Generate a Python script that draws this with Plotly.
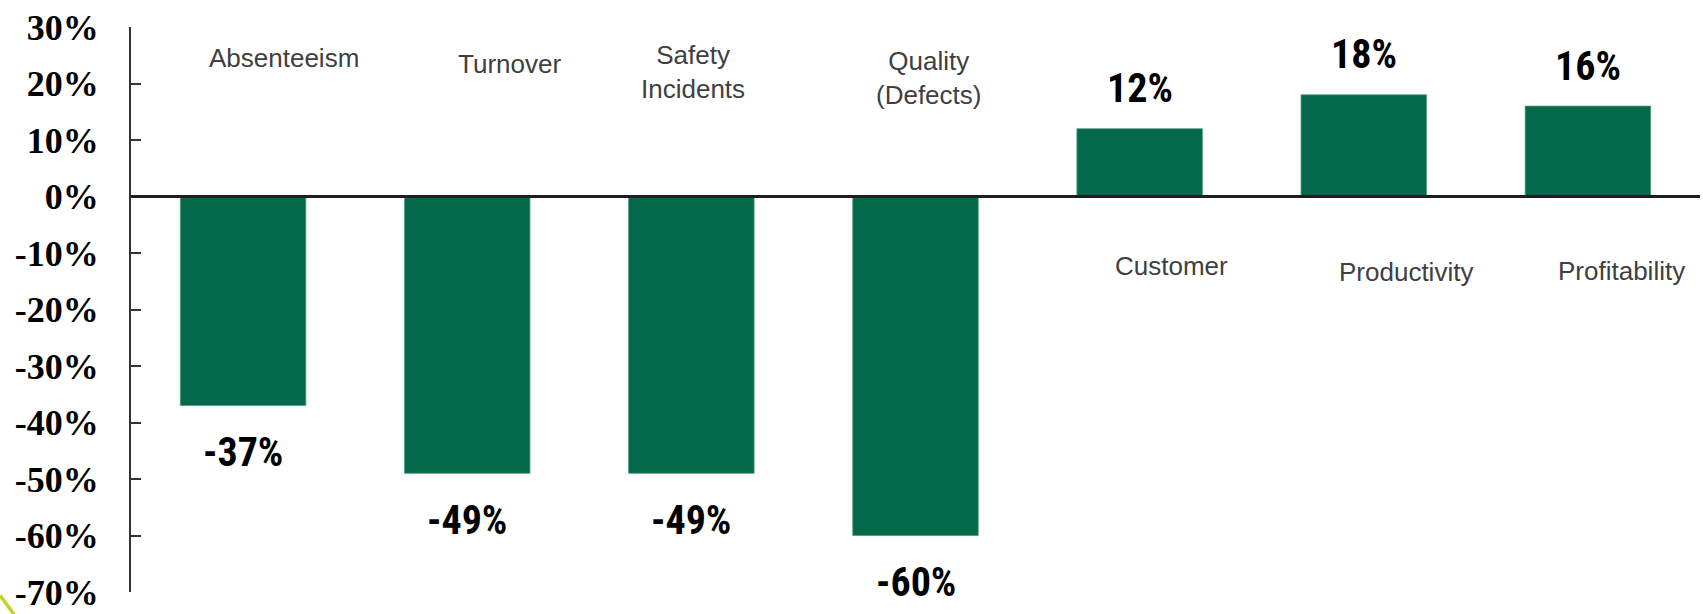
import plotly.graph_objects as go

# ---- data ----
categories = ["Absenteeism", "Turnover", "Safety Incidents", "Quality (Defects)",
              "Customer", "Productivity", "Profitability"]
values = [-37, -49, -49, -60, 12, 18, 16]
tick_values = [30, 20, 10, 0, -10, -20, -30, -40, -50, -60, -70]
tick_labels = [f"{v}%" for v in tick_values]

# ---- display settings (layout only) ----
wrapped = {"Safety Incidents": "Safety<br>Incidents",
           "Quality (Defects)": "Quality<br>(Defects)"}
label_y = [24.6, 23.5, 22.0, 20.9, -12.3, -13.4, -13.1]
label_dx = [41, 42, 2, 13, 32, 42, 34]

BAR = "#03694A"

fig = go.Figure()
fig.add_trace(go.Bar(
    x=categories, y=values,
    marker=dict(color=BAR, line=dict(color="#4f9a80", width=0.8)),
    hoverinfo="skip", showlegend=False,
))

annotations = []
for c, v in zip(categories, values):
    annotations.append(dict(
        x=c, y=v, xref="x", yref="y", text=f"{v}%", showarrow=False,
        yanchor="middle", xanchor="center",
        yshift=(40 if v > 0 else -47),
        font=dict(family="Liberation Sans Narrow, Arial Narrow, Roboto Condensed, sans-serif",
                  size=40, color="#000000", weight=700),
    ))
for c, ly, dx in zip(categories, label_y, label_dx):
    annotations.append(dict(
        x=c, y=ly, xref="x", yref="y", text=wrapped.get(c, c), showarrow=False,
        xanchor="center", yanchor="middle", xshift=dx, align="center",
        font=dict(family="Liberation Sans, Arial, sans-serif", size=26, color="#404040"),
    ))

shapes = [
    # zero line drawn above bars
    dict(type="line", xref="paper", yref="y", x0=0, x1=1, y0=0, y1=0,
         line=dict(color="#1e1e1e", width=3), layer="above"),
    # decorative yellow-green stroke in the bottom-left corner
    dict(type="line", xref="paper", yref="paper",
         x0=-0.0835, y0=-0.006, x1=-0.0745, y1=-0.04,
         line=dict(color="#c5d22a", width=3.5), layer="above"),
]

fig.update_layout(
    width=1703, height=614,
    margin=dict(l=131, r=3, t=27, b=22, autoexpand=False),
    paper_bgcolor="white", plot_bgcolor="white",
    bargap=0.44,
    annotations=annotations,
    shapes=shapes,
    xaxis=dict(visible=False, range=[-0.5, 6.5], fixedrange=True),
    yaxis=dict(
        range=[-70, 30], tickvals=tick_values, ticktext=tick_labels,
        showgrid=False, zeroline=False,
        showline=True, linecolor="#333333", linewidth=2,
        ticks="inside", ticklen=10, tickwidth=2, tickcolor="#333333",
        ticklabelstandoff=23,
        tickfont=dict(family="Liberation Serif, DejaVu Serif, serif", size=36,
                      color="#000000", weight=700),
        automargin=False, fixedrange=True,
    ),
)

fig.write_html(
    "out.html",
    config={"displayModeBar": False},
    post_script="document.body.style.margin='0';document.body.style.overflow='hidden';",
)
